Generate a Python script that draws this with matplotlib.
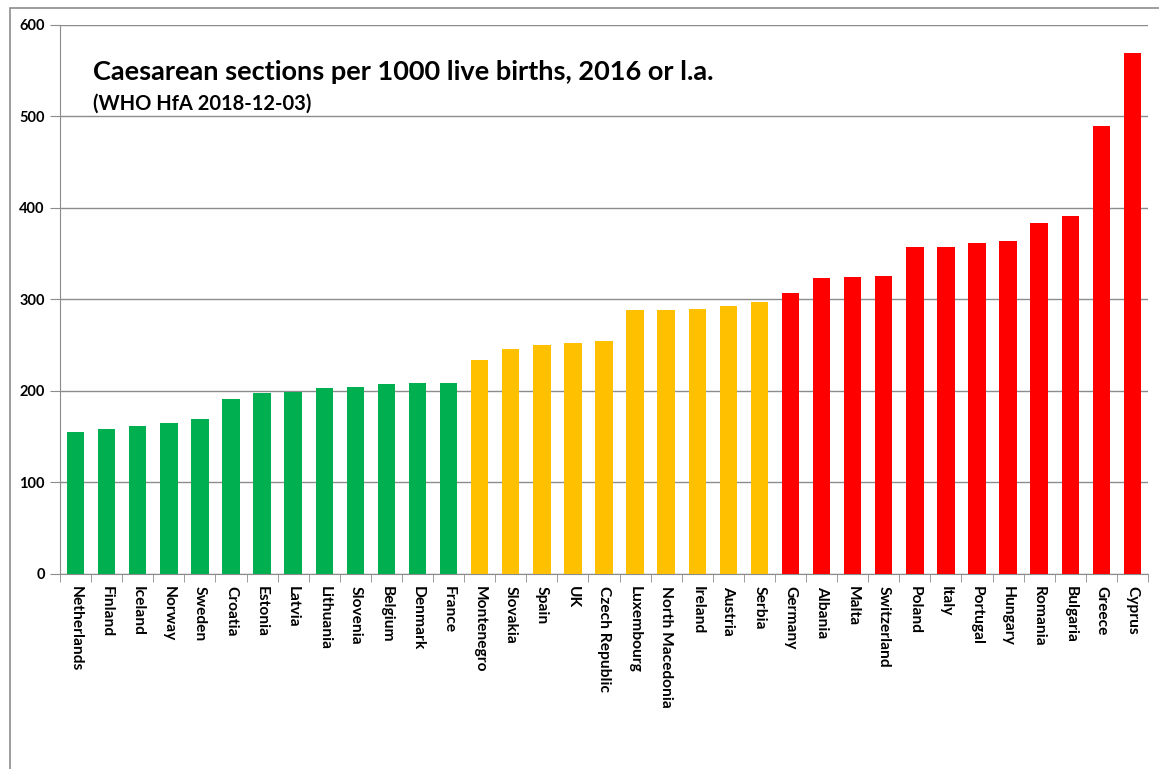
import matplotlib.pyplot as plt
import numpy as np
from matplotlib.patches import Rectangle

# data
countries = ['Netherlands', 'Finland', 'Iceland', 'Norway', 'Sweden', 'Croatia',
             'Estonia', 'Latvia', 'Lithuania', 'Slovenia', 'Belgium', 'Denmark',
             'France', 'Montenegro', 'Slovakia', 'Spain', 'UK', 'Czech Republic',
             'Luxembourg', 'North Macedonia', 'Ireland', 'Austria', 'Serbia',
             'Germany', 'Albania', 'Malta', 'Switzerland', 'Poland', 'Italy',
             'Portugal', 'Hungary', 'Romania', 'Bulgaria', 'Greece', 'Cyprus']
values = [155, 158, 161, 165, 169, 191, 197, 199, 203, 204, 207, 208,
          208, 234, 246, 250, 252, 254, 288, 288, 289, 293, 297,
          307, 323, 324, 325, 357, 357, 361, 364, 383, 391, 489, 569]
groups = ['low'] * 13 + ['mid'] * 10 + ['high'] * 12

colors = {'low': '#00B050', 'mid': '#FFC000', 'high': '#FF0000'}
plt.rcParams['font.family'] = ['Lato', 'DejaVu Sans']

fig = plt.figure(figsize=(11.59, 7.69), dpi=100)
ax = fig.add_axes([0.0518, 0.254, 0.9387, 0.7139])

x = np.arange(len(countries))
ax.bar(x, values, width=0.56, color=[colors[g] for g in groups], zorder=3)

ax.set_xlim(-0.5, len(countries) - 0.5)
ax.set_ylim(0, 600)
ax.set_yticks(range(0, 601, 100))
ax.yaxis.grid(True, color='#8c8c8c', linewidth=1.0, zorder=0)

ax.set_xticks(x)
ax.set_xticklabels(countries, rotation=-90, fontsize=11.2, fontweight='bold',
                   va='top', ha='center')
ax.set_xticks(np.arange(-0.5, len(countries)), minor=True)
ax.tick_params(axis='x', which='major', length=0, pad=9)
ax.tick_params(axis='x', which='minor', length=6, color='#8c8c8c', direction='out')
ax.tick_params(axis='y', length=7, color='#8c8c8c', pad=4, labelsize=10.5)
for lbl in ax.get_yticklabels():
    lbl.set_fontweight('bold')

for s in ['top', 'right']:
    ax.spines[s].set_visible(False)
for s in ['left', 'bottom']:
    ax.spines[s].set_color('#8c8c8c')

ax.text(0.030, 0.9, 'Caesarean sections per 1000 live births, 2016 or l.a.',
        transform=ax.transAxes, fontsize=19.5, fontweight='bold', va='baseline')
ax.text(0.030, 0.845, '(WHO HfA 2018-12-03)', transform=ax.transAxes,
        fontsize=14.5, fontweight='bold', va='baseline')

# outer chart frame (only left and top show in the picture)
fig.patches.append(Rectangle((10 / 1159, -0.1), 1.2, 1.1 - 8 / 769,
                             transform=fig.transFigure, fill=False,
                             edgecolor='#8c8c8c', linewidth=1.2))

fig.savefig('out.png', dpi=100)
